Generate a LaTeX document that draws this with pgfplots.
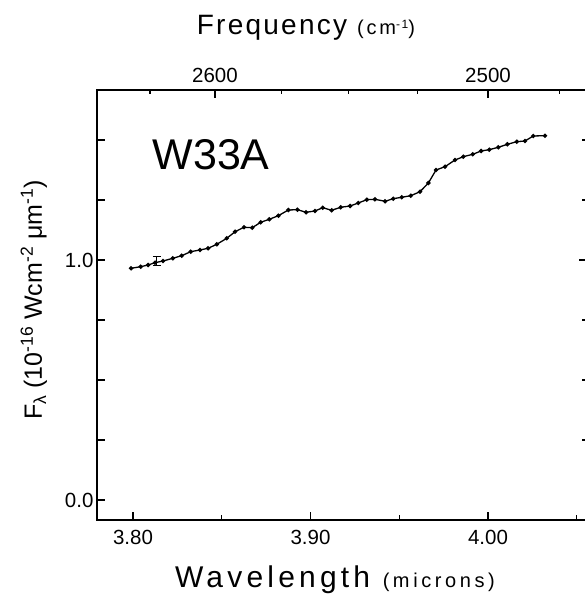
\documentclass[border=0pt]{standalone}
\usepackage{pgfplots}
\pgfplotsset{compat=1.18}
\usepackage{fontspec}
\setmainfont{Liberation Sans}
\newfontfamily\spacedA[LetterSpace=8]{Liberation Sans}
\newfontfamily\spacedB[LetterSpace=14]{Liberation Sans}
\newfontfamily\spacedC[LetterSpace=18]{Liberation Sans}

\pgfplotsset{base/.style={scale only axis, width=489pt, height=430pt,
  xmin=3.7797, xmax=4.0552, ymin=-0.0833, ymax=1.7083,
  tick align=inside, tick style={black, line width=1.2pt},
  ticklabel style={font=\fontsize{20.5}{20.5}\selectfont}, clip=false}}

\begin{document}
\begin{tikzpicture}
% bottom and left, with the data
\begin{axis}[base, name=ax, axis line style={line width=1.4pt},
  xtick pos=bottom, ytick pos=left,
  xtick={3.80,3.90,4.00}, xticklabels={3.80,3.90,4.00},
  xticklabel style={yshift=-7pt},
  minor xtick={3.85,3.95,4.05},
  ytick={0,0.25,0.5,0.75,1,1.25,1.5}, yticklabels={0.0,{},{},{},1.0,{},{}},
  major tick length=8pt, minor tick length=5pt]
\addplot[black, line width=1.3pt, mark=*, mark size=1.5pt] coordinates {
(3.7989,0.9654) (3.8043,0.9721) (3.8085,0.9792) (3.8124,0.9888)
(3.8169,0.9958) (3.8224,1.0071) (3.8274,1.0179) (3.8325,1.0346)
(3.8377,1.0417) (3.8423,1.0488) (3.8472,1.0654) (3.8528,1.0904)
(3.8575,1.1179) (3.8625,1.1363) (3.8672,1.1346) (3.8719,1.1571)
(3.8768,1.1696) (3.8819,1.1846) (3.8875,1.2083) (3.8926,1.2096)
(3.8975,1.1988) (3.9025,1.2042) (3.9069,1.2179) (3.9119,1.2071)
(3.9170,1.2196) (3.9223,1.2250) (3.9269,1.2375) (3.9317,1.2513)
(3.9363,1.2529) (3.9420,1.2446) (3.9466,1.2554) (3.9514,1.2613)
(3.9565,1.2679) (3.9617,1.2846) (3.9664,1.3208) (3.9707,1.3750)
(3.9758,1.3888) (3.9814,1.4167) (3.9861,1.4304) (3.9914,1.4404)
(3.9961,1.4542) (4.0007,1.4596) (4.0058,1.4696) (4.0109,1.4821)
(4.0162,1.4929) (4.0208,1.4958) (4.0255,1.5167) (4.0321,1.5179)
};
\addplot[draw=none, mark=none, forget plot,
  error bars/.cd, y dir=both, y explicit,
  error bar style={draw=black, line width=1pt},
  error mark options={rotate=90, mark size=4pt, draw=black, line width=1pt}]
  coordinates {(3.8134,0.994) +- (0,0.019)};
\node[font=\fontsize{43}{43}\selectfont] at (axis cs:3.844,1.4375) {W33A};
\node[anchor=base, font=\fontsize{28}{28}\selectfont\spacedA] at (rel axis cs:0.4274,1.128)
  {Frequency {\fontsize{20}{20}\selectfont\spacedB(cm\raisebox{0.6ex}{\fontsize{12}{12}\selectfont -1})}};
\node[anchor=base, font=\fontsize{30}{30}\selectfont\spacedB] at (rel axis cs:0.4867,-0.1558)
  {Wavelength {\fontsize{20}{20}\selectfont\spacedC(microns)}};
\node[anchor=base, rotate=90, font=\fontsize{25}{25}\selectfont] at (rel axis cs:-0.1125,0.5116)
  {F\textsubscript{λ} (10\textsuperscript{-16} Wcm\textsuperscript{-2} μm\textsuperscript{-1})};
\end{axis}
% top: frequency
\begin{axis}[base, axis line style={draw=none}, xtick pos=top, xticklabel pos=top,
  xticklabel style={yshift=4pt},
  ytick=\empty, xtick={3.84615,4.00}, xticklabels={2600,2500},
  minor xtick={3.80952,3.88350,3.92157,3.96040,4.04040},
  major tick length=8pt, minor tick length=4pt]
\end{axis}
% right
\begin{axis}[base, axis line style={draw=none}, xtick=\empty, ytick pos=right,
  ytick={1}, yticklabels={}, minor ytick={0.25,0.5,0.75,1.25,1.5},
  major tick length=7pt, minor tick length=4pt]
\end{axis}
\pgfresetboundingbox
\path ([shift={(-97pt,-79pt)}]ax.south west) rectangle ([shift={(-2pt,90pt)}]ax.north east);
\end{tikzpicture}
\end{document}
